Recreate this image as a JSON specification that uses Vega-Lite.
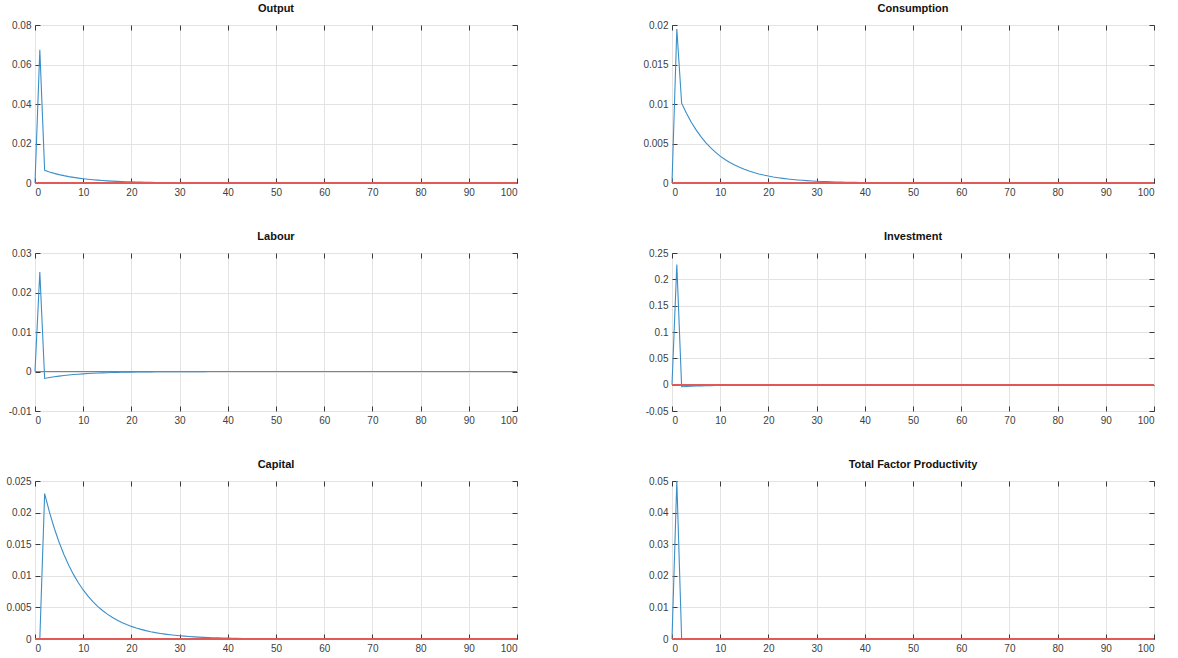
{
  "$schema": "https://vega.github.io/schema/vega-lite/v6.json",
  "padding": {"left": 5, "top": 2, "right": 5, "bottom": 2},
  "background": "white",
  "datasets": {
    "irf": [
      {"t":0,"Output":0,"Consumption":0,"Labour":0,"Investment":0,"Capital":0,"TFP":0},
      {"t":1,"Output":0.0675,"Consumption":0.0195,"Labour":0.0252,"Investment":0.228,"Capital":0,"TFP":0.05},
      {"t":2,"Output":0.0064,"Consumption":0.0101,"Labour":-0.00176,"Investment":-0.004,"Capital":0.023,"TFP":0},
      {"t":3,"Output":0.005587,"Consumption":0.008817,"Labour":-0.001536,"Investment":-0.003492,"Capital":0.020079,"TFP":0},
      {"t":4,"Output":0.004878,"Consumption":0.007697,"Labour":-0.001341,"Investment":-0.003049,"Capital":0.017529,"TFP":0},
      {"t":5,"Output":0.004258,"Consumption":0.00672,"Labour":-0.001171,"Investment":-0.002661,"Capital":0.015303,"TFP":0},
      {"t":6,"Output":0.003717,"Consumption":0.005866,"Labour":-0.001022,"Investment":-0.002323,"Capital":0.013359,"TFP":0},
      {"t":7,"Output":0.003245,"Consumption":0.005121,"Labour":-0.000892,"Investment":-0.002028,"Capital":0.011663,"TFP":0},
      {"t":8,"Output":0.002833,"Consumption":0.004471,"Labour":-0.000779,"Investment":-0.001771,"Capital":0.010182,"TFP":0},
      {"t":9,"Output":0.002473,"Consumption":0.003903,"Labour":-0.00068,"Investment":-0.001546,"Capital":0.008888,"TFP":0},
      {"t":10,"Output":0.002159,"Consumption":0.003407,"Labour":-0.000594,"Investment":-0.00135,"Capital":0.00776,"TFP":0},
      {"t":11,"Output":0.001885,"Consumption":0.002975,"Labour":-0.000518,"Investment":-0.001178,"Capital":0.006774,"TFP":0},
      {"t":12,"Output":0.001646,"Consumption":0.002597,"Labour":-0.000453,"Investment":-0.001028,"Capital":0.005914,"TFP":0},
      {"t":13,"Output":0.001437,"Consumption":0.002267,"Labour":-0.000395,"Investment":-0.000898,"Capital":0.005163,"TFP":0},
      {"t":14,"Output":0.001254,"Consumption":0.001979,"Labour":-0.000345,"Investment":-0.000784,"Capital":0.004507,"TFP":0},
      {"t":15,"Output":0.001095,"Consumption":0.001728,"Labour":-0.000301,"Investment":-0.000684,"Capital":0.003935,"TFP":0},
      {"t":16,"Output":0.000956,"Consumption":0.001508,"Labour":-0.000263,"Investment":-0.000597,"Capital":0.003435,"TFP":0},
      {"t":17,"Output":0.000834,"Consumption":0.001317,"Labour":-0.000229,"Investment":-0.000522,"Capital":0.002999,"TFP":0},
      {"t":18,"Output":0.000728,"Consumption":0.00115,"Labour":-0.0002,"Investment":-0.000455,"Capital":0.002618,"TFP":0},
      {"t":19,"Output":0.000636,"Consumption":0.001004,"Labour":-0.000175,"Investment":-0.000397,"Capital":0.002285,"TFP":0},
      {"t":20,"Output":0.000555,"Consumption":0.000876,"Labour":-0.000153,"Investment":-0.000347,"Capital":0.001995,"TFP":0},
      {"t":21,"Output":0.000485,"Consumption":0.000765,"Labour":-0.000133,"Investment":-0.000303,"Capital":0.001742,"TFP":0},
      {"t":22,"Output":0.000423,"Consumption":0.000668,"Labour":-0.000116,"Investment":-0.000264,"Capital":0.001521,"TFP":0},
      {"t":23,"Output":0.000369,"Consumption":0.000583,"Labour":-0.000102,"Investment":-0.000231,"Capital":0.001327,"TFP":0},
      {"t":24,"Output":0.000322,"Consumption":0.000509,"Labour":-0.000089,"Investment":-0.000202,"Capital":0.001159,"TFP":0},
      {"t":25,"Output":0.000282,"Consumption":0.000444,"Labour":-0.000077,"Investment":-0.000176,"Capital":0.001012,"TFP":0},
      {"t":26,"Output":0.000246,"Consumption":0.000388,"Labour":-0.000068,"Investment":-0.000154,"Capital":0.000883,"TFP":0},
      {"t":27,"Output":0.000215,"Consumption":0.000339,"Labour":-0.000059,"Investment":-0.000134,"Capital":0.000771,"TFP":0},
      {"t":28,"Output":0.000187,"Consumption":0.000296,"Labour":-0.000052,"Investment":-0.000117,"Capital":0.000673,"TFP":0},
      {"t":29,"Output":0.000164,"Consumption":0.000258,"Labour":-0.000045,"Investment":-0.000102,"Capital":0.000588,"TFP":0},
      {"t":30,"Output":0.000143,"Consumption":0.000225,"Labour":-0.000039,"Investment":-0.000089,"Capital":0.000513,"TFP":0},
      {"t":31,"Output":0.000125,"Consumption":0.000197,"Labour":-0.000034,"Investment":-0.000078,"Capital":0.000448,"TFP":0},
      {"t":32,"Output":0.000109,"Consumption":0.000172,"Labour":-0.00003,"Investment":-0.000068,"Capital":0.000391,"TFP":0},
      {"t":33,"Output":0.000095,"Consumption":0.00015,"Labour":-0.000026,"Investment":-0.000059,"Capital":0.000341,"TFP":0},
      {"t":34,"Output":0.000083,"Consumption":0.000131,"Labour":-0.000023,"Investment":-0.000052,"Capital":0.000298,"TFP":0},
      {"t":35,"Output":0.000072,"Consumption":0.000114,"Labour":-0.00002,"Investment":-0.000045,"Capital":0.00026,"TFP":0},
      {"t":36,"Output":0.000063,"Consumption":0.0001,"Labour":-0.000017,"Investment":-0.000039,"Capital":0.000227,"TFP":0},
      {"t":37,"Output":0.000055,"Consumption":0.000087,"Labour":-0.000015,"Investment":-0.000034,"Capital":0.000198,"TFP":0},
      {"t":38,"Output":0.000048,"Consumption":0.000076,"Labour":-0.000013,"Investment":-0.00003,"Capital":0.000173,"TFP":0},
      {"t":39,"Output":0.000042,"Consumption":0.000066,"Labour":-0.000012,"Investment":-0.000026,"Capital":0.000151,"TFP":0},
      {"t":40,"Output":0.000037,"Consumption":0.000058,"Labour":-0.00001,"Investment":-0.000023,"Capital":0.000132,"TFP":0},
      {"t":41,"Output":0.000032,"Consumption":0.000051,"Labour":-0.000009,"Investment":-0.00002,"Capital":0.000115,"TFP":0},
      {"t":42,"Output":0.000028,"Consumption":0.000044,"Labour":-0.000008,"Investment":-0.000017,"Capital":0.000101,"TFP":0},
      {"t":43,"Output":0.000024,"Consumption":0.000039,"Labour":-0.000007,"Investment":-0.000015,"Capital":0.000088,"TFP":0},
      {"t":44,"Output":0.000021,"Consumption":0.000034,"Labour":-0.000006,"Investment":-0.000013,"Capital":0.000077,"TFP":0},
      {"t":45,"Output":0.000019,"Consumption":0.000029,"Labour":-0.000005,"Investment":-0.000012,"Capital":0.000067,"TFP":0},
      {"t":46,"Output":0.000016,"Consumption":0.000026,"Labour":-0.000004,"Investment":-0.00001,"Capital":0.000058,"TFP":0},
      {"t":47,"Output":0.000014,"Consumption":0.000022,"Labour":-0.000004,"Investment":-0.000009,"Capital":0.000051,"TFP":0},
      {"t":48,"Output":0.000012,"Consumption":0.00002,"Labour":-0.000003,"Investment":-0.000008,"Capital":0.000045,"TFP":0},
      {"t":49,"Output":0.000011,"Consumption":0.000017,"Labour":-0.000003,"Investment":-0.000007,"Capital":0.000039,"TFP":0},
      {"t":50,"Output":0.000009,"Consumption":0.000015,"Labour":-0.000003,"Investment":-0.000006,"Capital":0.000034,"TFP":0},
      {"t":51,"Output":0,"Consumption":0,"Labour":0,"Investment":0,"Capital":0,"TFP":0},
      {"t":52,"Output":0,"Consumption":0,"Labour":0,"Investment":0,"Capital":0,"TFP":0},
      {"t":53,"Output":0,"Consumption":0,"Labour":0,"Investment":0,"Capital":0,"TFP":0},
      {"t":54,"Output":0,"Consumption":0,"Labour":0,"Investment":0,"Capital":0,"TFP":0},
      {"t":55,"Output":0,"Consumption":0,"Labour":0,"Investment":0,"Capital":0,"TFP":0},
      {"t":56,"Output":0,"Consumption":0,"Labour":0,"Investment":0,"Capital":0,"TFP":0},
      {"t":57,"Output":0,"Consumption":0,"Labour":0,"Investment":0,"Capital":0,"TFP":0},
      {"t":58,"Output":0,"Consumption":0,"Labour":0,"Investment":0,"Capital":0,"TFP":0},
      {"t":59,"Output":0,"Consumption":0,"Labour":0,"Investment":0,"Capital":0,"TFP":0},
      {"t":60,"Output":0,"Consumption":0,"Labour":0,"Investment":0,"Capital":0,"TFP":0},
      {"t":61,"Output":0,"Consumption":0,"Labour":0,"Investment":0,"Capital":0,"TFP":0},
      {"t":62,"Output":0,"Consumption":0,"Labour":0,"Investment":0,"Capital":0,"TFP":0},
      {"t":63,"Output":0,"Consumption":0,"Labour":0,"Investment":0,"Capital":0,"TFP":0},
      {"t":64,"Output":0,"Consumption":0,"Labour":0,"Investment":0,"Capital":0,"TFP":0},
      {"t":65,"Output":0,"Consumption":0,"Labour":0,"Investment":0,"Capital":0,"TFP":0},
      {"t":66,"Output":0,"Consumption":0,"Labour":0,"Investment":0,"Capital":0,"TFP":0},
      {"t":67,"Output":0,"Consumption":0,"Labour":0,"Investment":0,"Capital":0,"TFP":0},
      {"t":68,"Output":0,"Consumption":0,"Labour":0,"Investment":0,"Capital":0,"TFP":0},
      {"t":69,"Output":0,"Consumption":0,"Labour":0,"Investment":0,"Capital":0,"TFP":0},
      {"t":70,"Output":0,"Consumption":0,"Labour":0,"Investment":0,"Capital":0,"TFP":0},
      {"t":71,"Output":0,"Consumption":0,"Labour":0,"Investment":0,"Capital":0,"TFP":0},
      {"t":72,"Output":0,"Consumption":0,"Labour":0,"Investment":0,"Capital":0,"TFP":0},
      {"t":73,"Output":0,"Consumption":0,"Labour":0,"Investment":0,"Capital":0,"TFP":0},
      {"t":74,"Output":0,"Consumption":0,"Labour":0,"Investment":0,"Capital":0,"TFP":0},
      {"t":75,"Output":0,"Consumption":0,"Labour":0,"Investment":0,"Capital":0,"TFP":0},
      {"t":76,"Output":0,"Consumption":0,"Labour":0,"Investment":0,"Capital":0,"TFP":0},
      {"t":77,"Output":0,"Consumption":0,"Labour":0,"Investment":0,"Capital":0,"TFP":0},
      {"t":78,"Output":0,"Consumption":0,"Labour":0,"Investment":0,"Capital":0,"TFP":0},
      {"t":79,"Output":0,"Consumption":0,"Labour":0,"Investment":0,"Capital":0,"TFP":0},
      {"t":80,"Output":0,"Consumption":0,"Labour":0,"Investment":0,"Capital":0,"TFP":0},
      {"t":81,"Output":0,"Consumption":0,"Labour":0,"Investment":0,"Capital":0,"TFP":0},
      {"t":82,"Output":0,"Consumption":0,"Labour":0,"Investment":0,"Capital":0,"TFP":0},
      {"t":83,"Output":0,"Consumption":0,"Labour":0,"Investment":0,"Capital":0,"TFP":0},
      {"t":84,"Output":0,"Consumption":0,"Labour":0,"Investment":0,"Capital":0,"TFP":0},
      {"t":85,"Output":0,"Consumption":0,"Labour":0,"Investment":0,"Capital":0,"TFP":0},
      {"t":86,"Output":0,"Consumption":0,"Labour":0,"Investment":0,"Capital":0,"TFP":0},
      {"t":87,"Output":0,"Consumption":0,"Labour":0,"Investment":0,"Capital":0,"TFP":0},
      {"t":88,"Output":0,"Consumption":0,"Labour":0,"Investment":0,"Capital":0,"TFP":0},
      {"t":89,"Output":0,"Consumption":0,"Labour":0,"Investment":0,"Capital":0,"TFP":0},
      {"t":90,"Output":0,"Consumption":0,"Labour":0,"Investment":0,"Capital":0,"TFP":0},
      {"t":91,"Output":0,"Consumption":0,"Labour":0,"Investment":0,"Capital":0,"TFP":0},
      {"t":92,"Output":0,"Consumption":0,"Labour":0,"Investment":0,"Capital":0,"TFP":0},
      {"t":93,"Output":0,"Consumption":0,"Labour":0,"Investment":0,"Capital":0,"TFP":0},
      {"t":94,"Output":0,"Consumption":0,"Labour":0,"Investment":0,"Capital":0,"TFP":0},
      {"t":95,"Output":0,"Consumption":0,"Labour":0,"Investment":0,"Capital":0,"TFP":0},
      {"t":96,"Output":0,"Consumption":0,"Labour":0,"Investment":0,"Capital":0,"TFP":0},
      {"t":97,"Output":0,"Consumption":0,"Labour":0,"Investment":0,"Capital":0,"TFP":0},
      {"t":98,"Output":0,"Consumption":0,"Labour":0,"Investment":0,"Capital":0,"TFP":0},
      {"t":99,"Output":0,"Consumption":0,"Labour":0,"Investment":0,"Capital":0,"TFP":0},
      {"t":100,"Output":0,"Consumption":0,"Labour":0,"Investment":0,"Capital":0,"TFP":0}
    ]
  },
  "columns": 2,
  "spacing": {"row": 70, "column": 155},
  "bounds": "flush",
  "concat": [
    {
      "title": "Output",
      "width": 482, "height": 158,
      "data": {"name": "irf"},
      "resolve": {"axis": {"x": "independent", "y": "independent"}},
      "layer": [
        {"mark": {"type": "line"},
         "encoding": {
           "x": {"field": "t", "type": "quantitative", "title": null, "scale": {"domain": [0, 100], "nice": false}, "axis": {"values": [0,10,20,30,40,50,60,70,80,90,100]}},
           "y": {"field": "Output", "type": "quantitative", "title": null, "scale": {"domain": [0, 0.08], "nice": false}, "axis": {"values": [0,0.02,0.04,0.06,0.08]}}
         }},
        {"mark": {"type": "rule"}, "encoding": {"y": {"datum": 0, "axis": null}}},
        {"mark": {"type": "line", "opacity": 0},
         "encoding": {
           "x": {"field": "t", "type": "quantitative", "title": null, "axis": {"orient": "top", "labels": false, "grid": false, "values": [0,10,20,30,40,50,60,70,80,90,100]}},
           "y": {"field": "Output", "type": "quantitative", "title": null, "axis": {"orient": "right", "labels": false, "grid": false, "values": [0,0.02,0.04,0.06,0.08]}}
         }}
      ]
    },
    {
      "title": "Consumption",
      "width": 482, "height": 158,
      "data": {"name": "irf"},
      "resolve": {"axis": {"x": "independent", "y": "independent"}},
      "layer": [
        {"mark": {"type": "line"},
         "encoding": {
           "x": {"field": "t", "type": "quantitative", "title": null, "scale": {"domain": [0, 100], "nice": false}, "axis": {"values": [0,10,20,30,40,50,60,70,80,90,100]}},
           "y": {"field": "Consumption", "type": "quantitative", "title": null, "scale": {"domain": [0, 0.02], "nice": false}, "axis": {"values": [0,0.005,0.01,0.015,0.02]}}
         }},
        {"mark": {"type": "rule"}, "encoding": {"y": {"datum": 0, "axis": null}}},
        {"mark": {"type": "line", "opacity": 0},
         "encoding": {
           "x": {"field": "t", "type": "quantitative", "title": null, "axis": {"orient": "top", "labels": false, "grid": false, "values": [0,10,20,30,40,50,60,70,80,90,100]}},
           "y": {"field": "Consumption", "type": "quantitative", "title": null, "axis": {"orient": "right", "labels": false, "grid": false, "values": [0,0.005,0.01,0.015,0.02]}}
         }}
      ]
    },
    {
      "title": "Labour",
      "width": 482, "height": 158,
      "data": {"name": "irf"},
      "resolve": {"axis": {"x": "independent", "y": "independent"}},
      "layer": [
        {"mark": {"type": "line"},
         "encoding": {
           "x": {"field": "t", "type": "quantitative", "title": null, "scale": {"domain": [0, 100], "nice": false}, "axis": {"values": [0,10,20,30,40,50,60,70,80,90,100]}},
           "y": {"field": "Labour", "type": "quantitative", "title": null, "scale": {"domain": [-0.01, 0.03], "nice": false}, "axis": {"values": [-0.01,0,0.01,0.02,0.03]}}
         }},
        {"mark": {"type": "rule"}, "encoding": {"y": {"datum": 0, "axis": null}}},
        {"mark": {"type": "line", "opacity": 0},
         "encoding": {
           "x": {"field": "t", "type": "quantitative", "title": null, "axis": {"orient": "top", "labels": false, "grid": false, "values": [0,10,20,30,40,50,60,70,80,90,100]}},
           "y": {"field": "Labour", "type": "quantitative", "title": null, "axis": {"orient": "right", "labels": false, "grid": false, "values": [-0.01,0,0.01,0.02,0.03]}}
         }}
      ]
    },
    {
      "title": "Investment",
      "width": 482, "height": 158,
      "data": {"name": "irf"},
      "resolve": {"axis": {"x": "independent", "y": "independent"}},
      "layer": [
        {"mark": {"type": "line"},
         "encoding": {
           "x": {"field": "t", "type": "quantitative", "title": null, "scale": {"domain": [0, 100], "nice": false}, "axis": {"values": [0,10,20,30,40,50,60,70,80,90,100]}},
           "y": {"field": "Investment", "type": "quantitative", "title": null, "scale": {"domain": [-0.05, 0.25], "nice": false}, "axis": {"values": [-0.05,0,0.05,0.1,0.15,0.2,0.25]}}
         }},
        {"mark": {"type": "rule"}, "encoding": {"y": {"datum": 0, "axis": null}}},
        {"mark": {"type": "line", "opacity": 0},
         "encoding": {
           "x": {"field": "t", "type": "quantitative", "title": null, "axis": {"orient": "top", "labels": false, "grid": false, "values": [0,10,20,30,40,50,60,70,80,90,100]}},
           "y": {"field": "Investment", "type": "quantitative", "title": null, "axis": {"orient": "right", "labels": false, "grid": false, "values": [-0.05,0,0.05,0.1,0.15,0.2,0.25]}}
         }}
      ]
    },
    {
      "title": "Capital",
      "width": 482, "height": 158,
      "data": {"name": "irf"},
      "resolve": {"axis": {"x": "independent", "y": "independent"}},
      "layer": [
        {"mark": {"type": "line"},
         "encoding": {
           "x": {"field": "t", "type": "quantitative", "title": null, "scale": {"domain": [0, 100], "nice": false}, "axis": {"values": [0,10,20,30,40,50,60,70,80,90,100]}},
           "y": {"field": "Capital", "type": "quantitative", "title": null, "scale": {"domain": [0, 0.025], "nice": false}, "axis": {"values": [0,0.005,0.01,0.015,0.02,0.025]}}
         }},
        {"mark": {"type": "rule"}, "encoding": {"y": {"datum": 0, "axis": null}}},
        {"mark": {"type": "line", "opacity": 0},
         "encoding": {
           "x": {"field": "t", "type": "quantitative", "title": null, "axis": {"orient": "top", "labels": false, "grid": false, "values": [0,10,20,30,40,50,60,70,80,90,100]}},
           "y": {"field": "Capital", "type": "quantitative", "title": null, "axis": {"orient": "right", "labels": false, "grid": false, "values": [0,0.005,0.01,0.015,0.02,0.025]}}
         }}
      ]
    },
    {
      "title": "Total Factor Productivity",
      "width": 482, "height": 158,
      "data": {"name": "irf"},
      "resolve": {"axis": {"x": "independent", "y": "independent"}},
      "layer": [
        {"mark": {"type": "line"},
         "encoding": {
           "x": {"field": "t", "type": "quantitative", "title": null, "scale": {"domain": [0, 100], "nice": false}, "axis": {"values": [0,10,20,30,40,50,60,70,80,90,100]}},
           "y": {"field": "TFP", "type": "quantitative", "title": null, "scale": {"domain": [0, 0.05], "nice": false}, "axis": {"values": [0,0.01,0.02,0.03,0.04,0.05]}}
         }},
        {"mark": {"type": "rule"}, "encoding": {"y": {"datum": 0, "axis": null}}},
        {"mark": {"type": "line", "opacity": 0},
         "encoding": {
           "x": {"field": "t", "type": "quantitative", "title": null, "axis": {"orient": "top", "labels": false, "grid": false, "values": [0,10,20,30,40,50,60,70,80,90,100]}},
           "y": {"field": "TFP", "type": "quantitative", "title": null, "axis": {"orient": "right", "labels": false, "grid": false, "values": [0,0.01,0.02,0.03,0.04,0.05]}}
         }}
      ]
    }
  ],
  "config": {
    "view": {"stroke": "#3a3a3a", "strokeWidth": 1},
    "axis": {
      "grid": true, "gridColor": "#e3e3e3", "gridWidth": 1,
      "domain": false, "tickCount": 20,
      "tickSize": -5, "tickColor": "#3a3a3a", "tickWidth": 1,
      "labelPadding": 9, "labelOverlap": false,
      "labelFont": "Liberation Sans", "labelFontSize": 10, "labelColor": "#404040",
      "labelExpr": "replace(format(datum.value, '~g'), '\u2212', '-')"
    },
    "title": {"font": "Liberation Sans", "fontSize": 11, "fontWeight": "bold", "color": "#111111", "offset": 6, "baseline": "alphabetic", "anchor": "middle"},
    "line": {"color": "#3b8fc8", "strokeWidth": 1.1},
    "rule": {"color": "#e05a58", "strokeWidth": 1}
  }
}
